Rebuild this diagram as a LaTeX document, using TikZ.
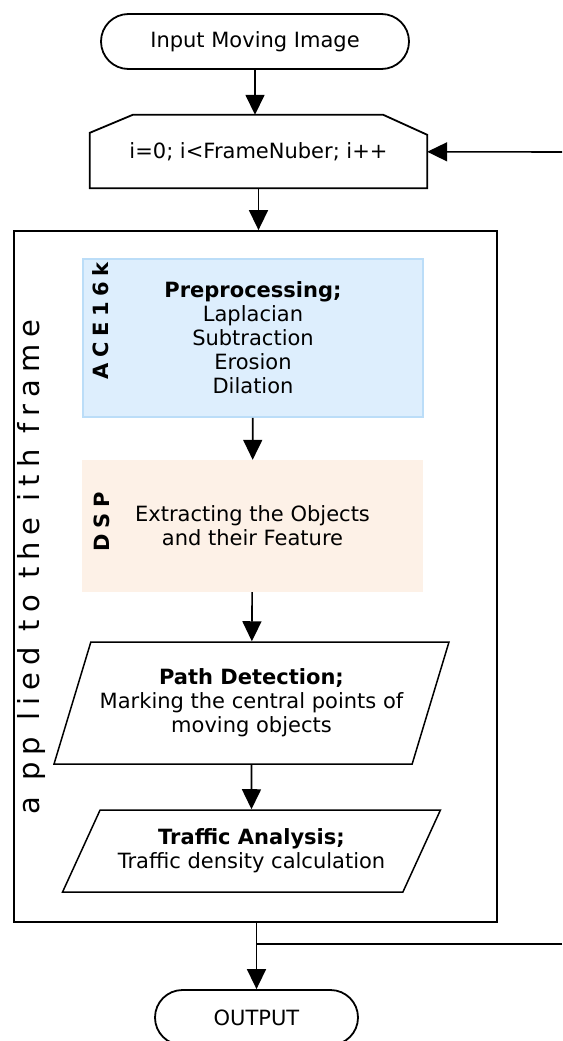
\documentclass[tikz,border=0pt]{standalone}
\usepackage{fontspec}
\setmainfont{DejaVu Sans}
\newfontfamily\spaced[LetterSpace=24]{DejaVu Sans}
\newfontfamily\spacedbf[LetterSpace=26]{DejaVu Sans Bold}
\usetikzlibrary{arrows.meta,shapes.geometric,calc}
\definecolor{acefill}{HTML}{DDEEFD}
\definecolor{aceline}{HTML}{BBDDF8}
\definecolor{dspfill}{HTML}{FDF1E7}
\begin{document}
\begin{tikzpicture}[x=1pt,y=-1pt,font=\fontsize{21}{24}\selectfont,
  term/.style={draw,line width=1.8pt,rounded corners=27.5pt,minimum width=308pt,minimum height=55pt},
  io/.style={draw,line width=1.5pt,align=center,trapezium,trapezium stretches=true},
  flow/.style={line width=1.6pt,-{Triangle[length=20pt,width=19pt]}}]
\useasboundingbox (0,0) rectangle (562,1041);

\node[term] (1) at (255,41.5) {Input Moving Image};
\node[minimum width=337pt,minimum height=73pt] (2) at (258.5,151.5) {i=0; i<FrameNuber; i++};
\draw[line width=1.8pt] (2.south west) -- ($(2.north west)+(0,18)$) -- ($(2.north west)+(43,0)$)
  -- ($(2.north east)+(-44,0)$) -- ($(2.north east)+(0,20)$) -- (2.south east) -- cycle;
\node[draw,line width=1.8pt,minimum width=483pt,minimum height=691pt] (10) at (255.5,576.5) {};

\node[fill=acefill,draw=aceline,line width=1.5pt,align=center,minimum width=340pt,minimum height=158pt] (3) at (253,338)
  {\textbf{Preprocessing;}\\Laplacian\\Subtraction\\Erosion\\Dilation};
\node[rotate=90] (4) at (101,321) {\spacedbf ACE16k};
\node[fill=dspfill,align=center,minimum width=341pt,minimum height=132pt] (5) at (252.5,526)
  {Extracting the Objects\\and their Feature};
\node[rotate=90] (6) at (101.5,522) {\spacedbf DSP};
\node[io,trapezium left angle=73,trapezium right angle=107,inner ysep=24pt,minimum width=397pt,minimum height=122pt] (7) at (251.5,703)
  {\textbf{Path Detection;}\\Marking the central points of\\moving objects};
\node[io,trapezium left angle=66,trapezium right angle=114,inner ysep=16pt,minimum width=379pt,minimum height=82pt] (8) at (251.5,851)
  {\textbf{Traffic Analysis;}\\Traffic density calculation};
\node[rotate=90,font=\fontsize{29}{30}\selectfont] (9) at (31,567) {\spaced a pp lied to the ith frame};
\node[term,minimum width=203pt] (11) at (256.5,1017.5) {OUTPUT};

\coordinate (12) at (562,152);
\coordinate (13) at (562,944);
\coordinate (14) at (11.north |- 13);

\draw[flow] (1.south) -- (1.south |- 2.north);
\draw[flow] (2.south) -- (2.south |- 10.north);
\draw[flow] (12) -- (2);
\draw[flow] (3) -- (5);
\draw[flow] (5) -- (7);
\draw[flow] (7) -- (8);
\draw[flow] (11.north |- 10.south) -- (11);
\draw[line width=1.6pt] (13) -- (14);
\end{tikzpicture}
\end{document}
